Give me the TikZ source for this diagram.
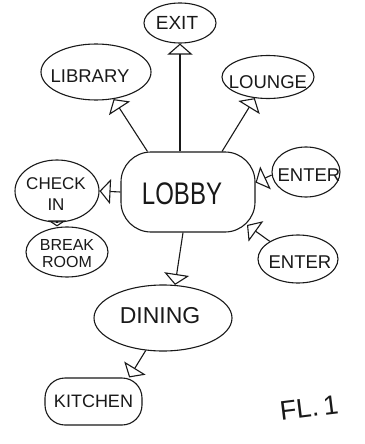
\documentclass[tikz,border=0pt]{standalone}
\usepackage{fontspec}
\setmainfont{Liberation Sans}
\usepackage{graphicx}
\usetikzlibrary{shapes.geometric,arrows.meta,calc}

\newcommand{\fs}[1]{\fontsize{#1}{#1}\selectfont}

\begin{document}
\begin{tikzpicture}[x=1pt,y=-1pt,
  ink/.style={draw=black!90, line width=1.1pt},
  room/.style={ink, ellipse, inner sep=0pt},
  boxroom/.style={ink, rectangle, inner sep=0pt},
  tag/.style={text=black!90, align=center},
  link/.style={ink, -{Triangle[open, length=11pt, width=25pt]}},
  shortlink/.style={ink, -{Triangle[open, length=6pt, width=18pt]}},
]
  % canvas
  \fill[white] (0,0) rectangle (364,444);
  \useasboundingbox (0,0) rectangle (364,444);

  % rooms
  \node[room, minimum width=72pt, minimum height=40pt,
        label={[tag, font=\fs{19}, xshift=-3pt]center:EXIT}] (exit) at (180,23) {};
  \node[room, minimum width=110pt, minimum height=56pt,
        label={[tag, font=\fs{18.5}, xshift=-6pt, yshift=-4pt]center:LIBRARY}] (library) at (96,72) {};
  \node[room, minimum width=92pt, minimum height=43pt,
        label={[tag, font=\fs{18.5}, yshift=-5pt]center:LOUNGE}] (lounge) at (268,77) {};
  \node[boxroom, rounded corners=30pt, minimum width=134pt, minimum height=80pt,
        label={[tag, font=\fs{24}, xshift=-6pt, yshift=-2pt]center:\scalebox{1}[1.3]{LOBBY}}] (lobby) at (188,192) {};
  \node[room, minimum width=68pt, minimum height=50pt,
        label={[tag, font=\fs{18.5}, xshift=3pt, yshift=-3pt]center:ENTER}] (enter1) at (306,172) {};
  \node[room, minimum width=80pt, minimum height=48pt,
        label={[tag, font=\fs{18.5}, xshift=2pt, yshift=-3pt]center:ENTER}] (enter2) at (298,259) {};
  \node[room, minimum width=84pt, minimum height=62pt,
        label={[tag, font=\fontsize{17}{21}\selectfont, xshift=-1pt, yshift=-3pt]center:CHECK\\IN}] (checkin) at (57,191) {};
  \node[room, minimum width=82pt, minimum height=50pt,
        label={[tag, font=\fontsize{16}{17}\selectfont, yshift=-2pt]center:BREAK\\ROOM}] (breakroom) at (67,252) {};
  \node[room, minimum width=138pt, minimum height=66pt,
        label={[tag, font=\fs{23}, xshift=-3pt, yshift=2pt]center:DINING}] (dining) at (163,318) {};
  \node[boxroom, rounded corners=20pt, minimum width=97pt, minimum height=47pt,
        label={[tag, font=\fs{18}]center:KITCHEN}] (kitchen) at (93.5,401.5) {};

  % floor caption
  \node[tag, font=\fs{27}, rotate=7] (floor) at (309,408) {FL.\,1};

  % connections
  \coordinate (lobbyse) at ($(lobby.center)+(59,33)$);
  \draw[link] (lobby.north -| exit) -- (exit.south);
  \draw[link] (lobby.135) -- (library.-57);
  \draw[link] (lobby.50) -- (lounge.-122);
  \draw[link] (enter1.185) -- (lobby.8);
  \draw[link] (enter2.148) -- (lobbyse);
  \draw[link] (lobby.west) -- (checkin.east);
  \draw[shortlink] (checkin.south) -- (breakroom.north -| checkin.south);
  \draw[link] (lobby.-97) -- (dining.70);
  \draw[link] (dining.-118) -- (kitchen.34);
\end{tikzpicture}
\end{document}
